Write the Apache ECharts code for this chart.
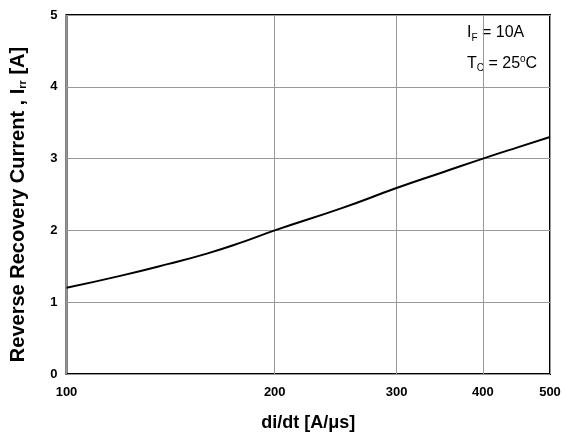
<!DOCTYPE html>
<html>
<head>
<meta charset="utf-8">
<script src="https://cdn.jsdelivr.net/npm/echarts@6/dist/echarts.min.js"></script>
<style>
  html, body { margin: 0; padding: 0; background: #fff; }
  #main { width: 564px; height: 441px; }
</style>
</head>
<body>
<div id="main"></div>
<script>
// di/dt values and Irr
var didt = [100, 120, 140, 160, 180, 200, 250, 300, 350, 400, 450, 500];
var irr = [1.2, 1.37, 1.53, 1.68, 1.84, 2.0, 2.31, 2.59, 2.81, 3.0, 3.16, 3.3];
var xTicks = [100, 200, 300, 400, 500];
var yTicks = [0, 1, 2, 3, 4, 5];

var chart = echarts.init(document.getElementById('main'));
var font = 'Liberation Sans, Arial, sans-serif';

var option = {
  animation: false,
  grid: {
    left: 66, right: 14, top: 15, bottom: 67,
    show: true, borderColor: '#000', borderWidth: 2
  },
  xAxis: {
    type: 'log',
    logBase: 10,
    min: 100,
    max: 500,
    name: 'di/dt [A/\u03bcs]',
    nameLocation: 'middle',
    nameGap: 40,
    nameTextStyle: { fontFamily: font, fontWeight: 'bold', fontSize: 18, color: '#000' },
    axisLine: { show: false },
    axisTick: { show: false, customValues: xTicks },
    axisLabel: {
      customValues: xTicks,
      fontFamily: font, fontWeight: 'bold', fontSize: 13, color: '#000', margin: 12
    },
    splitLine: { show: true, lineStyle: { color: '#999', width: 1 } }
  },
  yAxis: {
    type: 'value',
    min: 0,
    max: 5,
    interval: 1,
    name: '{b|Reverse Recovery Current , I}{s|rr}{b| [A]}',
    nameLocation: 'middle',
    nameGap: 38,
    nameTextStyle: {
      color: '#000',
      padding: [0, 20, 0, 0],
      rich: {
        b: { fontFamily: font, fontWeight: 'bold', fontSize: 20, color: '#000' },
        s: { fontFamily: font, fontWeight: 'bold', fontSize: 11, color: '#000', padding: [10, 0, 0, 0] }
      }
    },
    axisLine: { show: false },
    axisTick: { show: false },
    axisLabel: {
      fontFamily: font, fontWeight: 'bold', fontSize: 13, color: '#000', margin: 9
    },
    splitLine: { show: true, lineStyle: { color: '#999', width: 1 } }
  },
  graphic: [
    {
      type: 'text', left: 467, top: 25,
      style: {
        text: '{n|I}{s|F}{n| = 10A}',
        rich: {
          n: { fontFamily: font, fontSize: 16, fill: '#000' },
          s: { fontFamily: font, fontSize: 10, fill: '#000', padding: [10, 0, 0, 0] }
        }
      }
    },
    {
      type: 'text', left: 467, top: 54,
      style: {
        text: '{n|T}{s|C}{n| = 25}{p|o}{n|C}',
        rich: {
          n: { fontFamily: font, fontSize: 16, fill: '#000' },
          s: { fontFamily: font, fontSize: 10, fill: '#000', padding: [10, 0, 0, 0] },
          p: { fontFamily: font, fontSize: 10, fill: '#000', padding: [0, 0, 9, 0] }
        }
      }
    }
  ],
  series: [{
    type: 'line',
    data: didt.map(function (d, i) { return [d, irr[i]]; }),
    smooth: true,
    showSymbol: false,
    lineStyle: { color: '#000', width: 2 }
  }]
};

chart.setOption(option);
</script>
</body>
</html>
